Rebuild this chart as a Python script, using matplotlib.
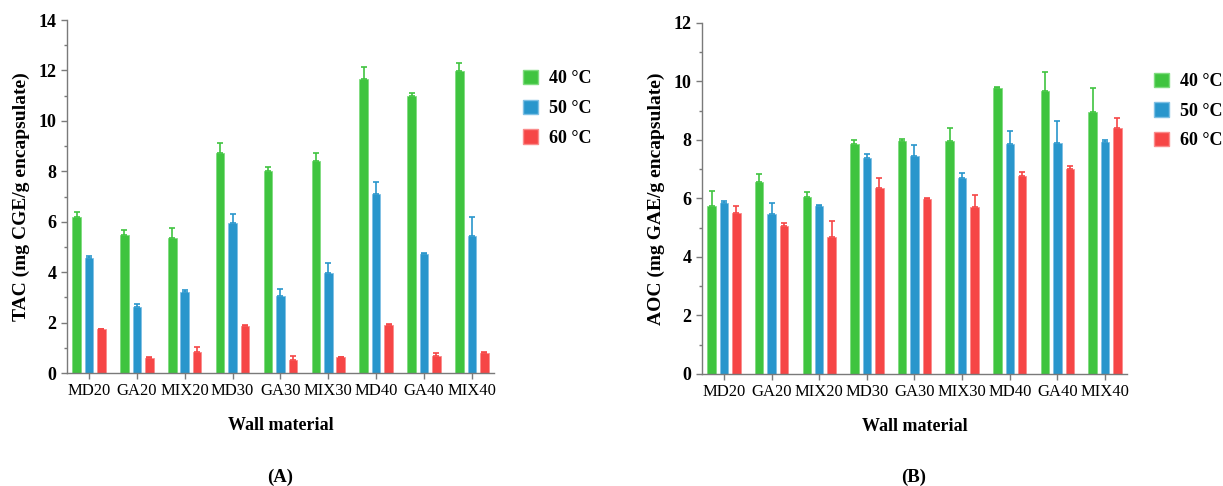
import numpy as np
import matplotlib
matplotlib.use("Agg")
import matplotlib.pyplot as plt
from matplotlib.patches import Patch
from matplotlib.ticker import MultipleLocator

plt.rcParams['font.family'] = ['Liberation Serif', 'DejaVu Serif']

walls = ['MD20', 'GA20', 'MIX20', 'MD30', 'GA30', 'MIX30', 'MD40', 'GA40', 'MIX40']
temps = ['40 °C', '50 °C', '60 °C']

# panel A: TAC, mean and top of error bar
tac_40 = [6.20, 5.48, 5.35, 8.74, 8.02, 8.41, 11.68, 10.99, 11.96]
tac_40_top = [6.40, 5.67, 5.77, 9.14, 8.19, 8.74, 12.12, 11.10, 12.31]
tac_50 = [4.57, 2.60, 3.21, 5.96, 3.06, 3.96, 7.08, 4.72, 5.45]
tac_50_top = [4.64, 2.74, 3.29, 6.31, 3.33, 4.35, 7.59, 4.74, 6.19]
tac_60 = [1.75, 0.58, 0.85, 1.88, 0.52, 0.62, 1.90, 0.67, 0.81]
tac_60_top = [1.76, 0.64, 1.02, 1.89, 0.67, 0.64, 1.94, 0.81, 0.83]

# panel B: AOC
aoc_40 = [5.75, 6.56, 6.06, 7.87, 7.98, 7.97, 9.77, 9.69, 8.97]
aoc_40_top = [6.27, 6.84, 6.23, 8.00, 8.03, 8.40, 9.80, 10.34, 9.79]
aoc_50 = [5.86, 5.46, 5.74, 7.40, 7.46, 6.69, 7.86, 7.89, 7.92]
aoc_50_top = [5.92, 5.86, 5.79, 7.51, 7.82, 6.88, 8.32, 8.65, 8.00]
aoc_60 = [5.49, 5.07, 4.69, 6.36, 5.98, 5.70, 6.78, 7.00, 8.40]
aoc_60_top = [5.75, 5.15, 5.24, 6.70, 6.00, 6.12, 6.92, 7.10, 8.75]

colors = ['#3fc43f', '#2996cc', '#f64646']
edges = ['#7fdc7f', '#7fc0e4', '#fa8c8c']
axis_gray = '#7a7a7a'


def draw_panel(ax, means, tops, ylabel, ymax, legx):
    x = np.arange(len(walls))
    w = 0.18
    off = [-0.26, 0, 0.26]
    for i in range(3):
        m = np.array(means[i])
        t = np.array(tops[i])
        err = np.vstack([np.zeros_like(m), np.clip(t - m, 0, None)])
        ax.bar(x + off[i], m, w, color=colors[i], edgecolor=edges[i], linewidth=0.6,
               yerr=err, error_kw=dict(ecolor=colors[i], elinewidth=1.2, capsize=2, capthick=1.2))
    ax.set_xlim(-0.46, 8.46)
    ax.set_ylim(0, ymax)
    ax.yaxis.set_major_locator(MultipleLocator(2))
    ax.yaxis.set_minor_locator(MultipleLocator(1))
    ax.set_xticks(x)
    ax.set_xticklabels(walls, fontsize=12)
    for lab in ax.get_yticklabels():
        lab.set_fontweight('bold')
        lab.set_fontsize(13)
    for s in ['top', 'right']:
        ax.spines[s].set_visible(False)
    for s in ['left', 'bottom']:
        ax.spines[s].set_color(axis_gray)
        ax.spines[s].set_linewidth(1.0)
    ax.tick_params(axis='both', which='both', color=axis_gray, width=1.0)
    ax.tick_params(axis='both', which='major', length=4)
    ax.tick_params(axis='y', which='minor', length=2.5)
    ax.set_ylabel(ylabel, fontsize=14, fontweight='bold', labelpad=6)
    ax.set_xlabel('Wall material', fontsize=13, fontweight='bold', labelpad=13)
    handles = [Patch(facecolor=colors[i], edgecolor=edges[i], label=temps[i]) for i in range(3)]
    ax.legend(handles=handles, loc='upper left', bbox_to_anchor=(legx, 0.905), frameon=False,
              prop={'size': 13, 'weight': 'bold'}, handlelength=0.85, handleheight=0.85,
              handletextpad=0.6, labelspacing=0.68)


fig = plt.figure(figsize=(12.23, 4.86), dpi=100)
ax1 = fig.add_axes([0.0548, 0.2325, 0.349, 0.7263])
ax2 = fig.add_axes([0.574, 0.2305, 0.3475, 0.7222])

draw_panel(ax1, [tac_40, tac_50, tac_60], [tac_40_top, tac_50_top, tac_60_top],
           'TAC (mg CGE/g encapsulate)', 14, 1.03)
draw_panel(ax2, [aoc_40, aoc_50, aoc_60], [aoc_40_top, aoc_50_top, aoc_60_top],
           'AOC (mg GAE/g encapsulate)', 12, 1.025)

fig.text(280 / 1223, 1 - 477 / 486, '(A)', ha='center', va='center', fontsize=13.5, fontweight='bold')
fig.text(914 / 1223, 1 - 477 / 486, '(B)', ha='center', va='center', fontsize=13.5, fontweight='bold')

fig.savefig('out.png', dpi=100)
